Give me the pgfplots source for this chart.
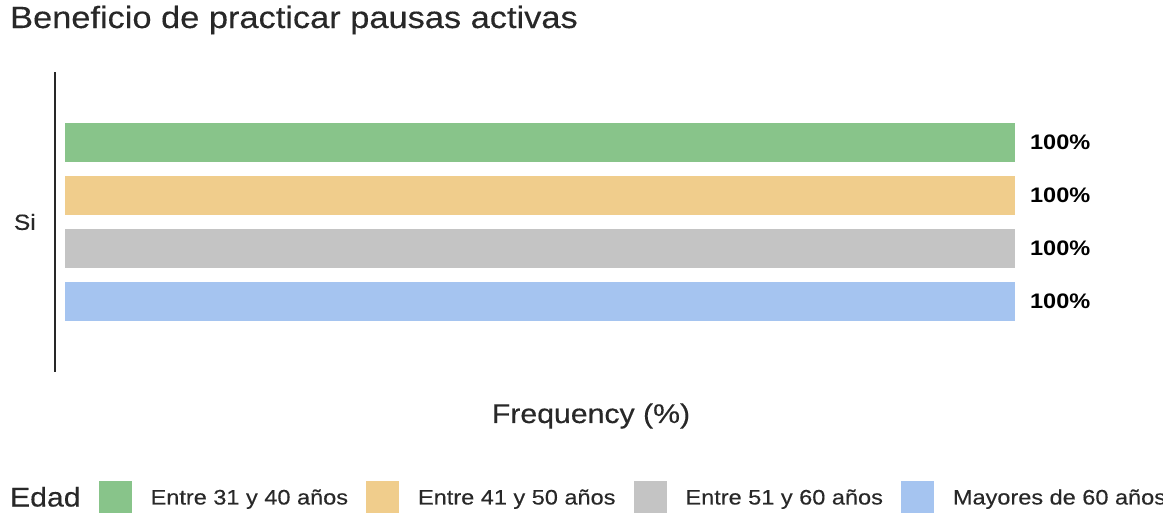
\documentclass[border=0pt]{standalone}
\usepackage{fontspec}
\setmainfont{Liberation Sans}[FakeStretch=1.12, UprightFeatures={FakeBold=0.3}]
\usepackage{pgfplots}
\pgfplotsset{compat=1.18}
\definecolor{cg}{RGB}{136,196,138}
\definecolor{co}{RGB}{240,205,140}
\definecolor{cy}{RGB}{196,196,196}
\definecolor{cb}{RGB}{165,196,240}
\definecolor{txt}{RGB}{40,40,40}
\begin{document}
\begin{tikzpicture}
\useasboundingbox (0,0) rectangle (1163pt,514pt);
\begin{axis}[
  at={(55pt,142pt)}, anchor=south west,
  scale only axis, width=1072pt, height=300pt,
  xmin=-1.053, xmax=111.8, ymin=-1.33, ymax=4.33,
  axis x line=bottom, axis y line=left,
  x axis line style={draw=none},
  y axis line style={-, draw=txt, line width=2pt},
  xbar, bar shift=0pt, bar width=0.736,
  ytick={1.5}, yticklabels={Si}, major tick length=0pt,
  yticklabel style={font=\fontsize{22}{22}\selectfont, text=txt, inner sep=0pt, xshift=-19pt},
  xtick=\empty,
  /pgf/number format/assume math mode=true,
  nodes near coords={\pgfmathprintnumber[fixed,precision=0]{\pgfplotspointmeta}\%},
  nodes near coords style={font=\bfseries\fontsize{21}{21}\selectfont, anchor=west, inner sep=0pt, xshift=15pt, text=black},
  clip=false,
  title={Beneficio de practicar pausas activas},
  title style={at={(axis description cs:-0.042,1.12667)}, anchor=base west, inner sep=0pt, font=\fontsize{30.7}{31}\selectfont, text=txt},
  xlabel={Frequency (\%)},
  xlabel style={at={(axis description cs:0.5,0)}, anchor=base, inner sep=0pt, yshift=-51pt, font=\fontsize{27}{27}\selectfont, text=txt},
  legend columns=5,
  legend cell align=left,
  legend style={at={(axis description cs:-0.04198,-0.41667)}, anchor=west, draw=none, fill=none, inner sep=0pt, outer sep=0pt,
    /tikz/every even column/.append style={column sep=18pt},
    nodes={inner sep=0pt, text height=15pt, text depth=0pt, font=\fontsize{21}{21}\selectfont, text=txt}},
  legend image code/.code={\fill[#1] (0pt,-16pt) rectangle (33pt,16pt); \path (52pt,0pt);},
]
\addlegendimage{empty legend}
\addlegendentry[font=\fontsize{27}{27}\selectfont, text height=19pt]{Edad}
\addplot[fill=cg, draw=none] coordinates {(100,3)};
\addlegendentry{Entre 31 y 40 años}
\addplot[fill=co, draw=none] coordinates {(100,2)};
\addlegendentry{Entre 41 y 50 años}
\addplot[fill=cy, draw=none] coordinates {(100,1)};
\addlegendentry{Entre 51 y 60 años}
\addplot[fill=cb, draw=none] coordinates {(100,0)};
\addlegendentry{Mayores de 60 años}
\end{axis}
\end{tikzpicture}
\end{document}
